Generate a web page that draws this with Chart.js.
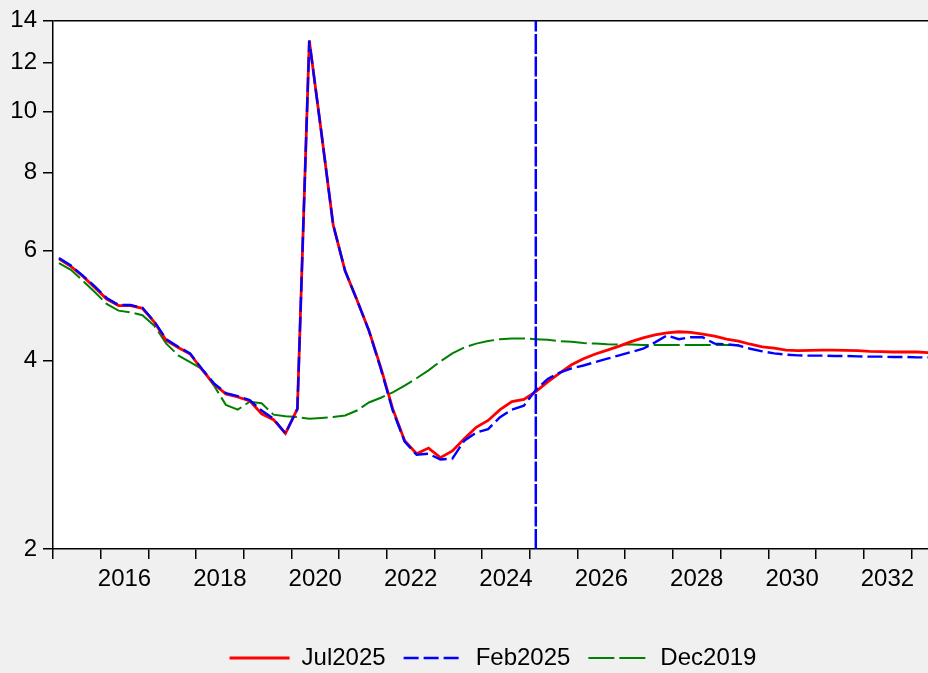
<!DOCTYPE html>
<html>
<head>
<meta charset="utf-8">
<script src="https://cdn.jsdelivr.net/npm/chart.js@4.4.1/dist/chart.umd.min.js"></script>
<style>
  html, body { margin: 0; padding: 0; background: #f0f0f0; }
  canvas { display: block; }
</style>
</head>
<body>
<canvas id="grafica" width="928" height="673"></canvas>
<script>
// trimestres (se dibujan en el centro de cada trimestre)
const periodos = [
  '2015Q1','2015Q2','2015Q3','2015Q4',
  '2016Q1','2016Q2','2016Q3','2016Q4',
  '2017Q1','2017Q2','2017Q3','2017Q4',
  '2018Q1','2018Q2','2018Q3','2018Q4',
  '2019Q1','2019Q2','2019Q3','2019Q4',
  '2020Q1','2020Q2','2020Q3','2020Q4',
  '2021Q1','2021Q2','2021Q3','2021Q4',
  '2022Q1','2022Q2','2022Q3','2022Q4',
  '2023Q1','2023Q2','2023Q3','2023Q4',
  '2024Q1','2024Q2','2024Q3','2024Q4',
  '2025Q1','2025Q2','2025Q3','2025Q4',
  '2026Q1','2026Q2','2026Q3','2026Q4',
  '2027Q1','2027Q2','2027Q3','2027Q4',
  '2028Q1','2028Q2','2028Q3','2028Q4',
  '2029Q1','2029Q2','2029Q3','2029Q4',
  '2030Q1','2030Q2','2030Q3','2030Q4',
  '2031Q1','2031Q2','2031Q3','2031Q4',
  '2032Q1','2032Q2','2032Q3','2032Q4',
  '2033Q1','2033Q2'
];

const jul2025 = [
  5.82, 5.66, 5.46, 5.24,
  5.02, 4.90, 4.90, 4.85,
  4.61, 4.31, 4.20, 4.10,
  3.87, 3.67, 3.54, 3.50,
  3.45, 3.29, 3.22, 3.06,
  3.35, 13.0, 9.3, 6.6,
  5.57, 5.0, 4.47, 3.90,
  3.35, 2.98, 2.84, 2.90,
  2.80, 2.87, 3.00, 3.13,
  3.21, 3.34, 3.44, 3.47,
  3.57, 3.70, 3.82, 3.94,
  4.03, 4.10, 4.16, 4.22,
  4.29, 4.35, 4.40, 4.43,
  4.45, 4.44, 4.41, 4.38,
  4.33, 4.30, 4.25, 4.21,
  4.19, 4.16, 4.15, 4.155,
  4.16, 4.16, 4.155, 4.15,
  4.14, 4.135, 4.13, 4.13,
  4.13, 4.12
];

const feb2025 = [
  5.84, 5.68, 5.47, 5.26,
  5.04, 4.91, 4.91, 4.86,
  4.62, 4.33, 4.21, 4.11,
  3.88, 3.68, 3.55, 3.51,
  3.46, 3.33, 3.23, 3.06,
  3.35, 13.0, 9.3, 6.6,
  5.57, 5.0, 4.47, 3.88,
  3.33, 2.97, 2.83, 2.84,
  2.78, 2.79, 2.98, 3.07,
  3.11, 3.25, 3.34, 3.39,
  3.59, 3.74, 3.83, 3.89,
  3.93, 3.98, 4.03, 4.08,
  4.13, 4.18, 4.28, 4.39,
  4.33, 4.36, 4.36, 4.26,
  4.25, 4.23, 4.18, 4.14,
  4.11, 4.09, 4.08, 4.075,
  4.075, 4.07, 4.07, 4.065,
  4.06, 4.06, 4.055, 4.055,
  4.05, 4.05
];

// el pronostico de dic-2019 termina en 2029Q2
const dec2019 = [
  5.73, 5.59, 5.37, 5.15,
  4.93, 4.81, 4.78, 4.73,
  4.55, 4.26, 4.08, 3.98,
  3.88, 3.65, 3.40, 3.34,
  3.44, 3.42, 3.28, 3.26,
  3.25, 3.23, 3.24, 3.25,
  3.27, 3.33, 3.43, 3.49,
  3.56, 3.65, 3.75, 3.86,
  3.99, 4.11, 4.20, 4.26,
  4.30, 4.33, 4.34, 4.34,
  4.33, 4.32, 4.30, 4.29,
  4.27, 4.26, 4.25, 4.245,
  4.245, 4.24, 4.24, 4.24,
  4.24, 4.24, 4.24, 4.24,
  4.24, 4.24
];

const yTicks = [2, 4, 6, 8, 10, 12, 14];
const xTickYears = [2015, 2016, 2017, 2018, 2019, 2020, 2021, 2022, 2023, 2024,
                    2025, 2026, 2027, 2028, 2029, 2030, 2031, 2032, 2033];
const xTickLabels = ['2016', '2018', '2020', '2022', '2024', '2026', '2028', '2030', '2032'];
const inicioPronostico = '2025Q1';

const FUENTE = '"Liberation Sans", Arial, sans-serif';

function periodoAX(p) {
    const anio = parseInt(p.slice(0, 4), 10);
    const trim = parseInt(p.slice(5), 10);
    return anio + (trim - 0.5) / 4;
}

function serie(valores) {
    return valores.map((v, i) => ({ x: periodoAX(periodos[i]), y: v }));
}

// fondo blanco solo en el area del grafico
const fondoArea = {
    id: 'fondoArea',
    beforeDraw(chart) {
        const { ctx, chartArea: a } = chart;
        ctx.save();
        ctx.fillStyle = '#ffffff';
        ctx.fillRect(a.left, a.top, a.right - a.left, a.bottom - a.top);
        ctx.restore();
    }
};

const xLinea = periodoAX(inicioPronostico);
const ctx = document.getElementById('grafica').getContext('2d');

// el padding derecho negativo solo corre la leyenda (en el original queda descentrada)
new Chart(ctx, {
    type: 'line',
    data: {
        datasets: [
            {
                label: 'Jul2025',
                data: serie(jul2025),
                borderColor: '#ff0000',
                borderWidth: 2.8,
                order: 2
            },
            {
                label: 'Feb2025',
                data: serie(feb2025),
                borderColor: '#0000ff',
                borderWidth: 2.4,
                borderDash: [15, 5],
                order: 1
            },
            {
                label: 'Dec2019',
                data: serie(dec2019),
                borderColor: '#008000',
                borderWidth: 2,
                borderDash: [26, 5],
                order: 3
            },
            {
                label: 'inicio',
                data: [{ x: xLinea, y: yTicks[0] }, { x: xLinea, y: yTicks[yTicks.length - 1] }],
                borderColor: '#0000ff',
                borderWidth: 2.5,
                borderDash: [20, 2.5],
                order: 0
            }
        ]
    },
    options: {
        responsive: false,
        animation: false,
        events: [],
        elements: { point: { radius: 0 }, line: { tension: 0, fill: false } },
        layout: { padding: { top: 16, right: -58, left: 0, bottom: -7 } },
        scales: {
            x: {
                type: 'linear',
                min: 2015,
                max: 2033.35,
                afterBuildTicks: scale => {
                    const t = xTickYears.map(v => ({ value: v }));
                    xTickLabels.forEach(l => t.push({ value: Number(l) + 0.5 }));
                    t.sort((a, b) => a.value - b.value);
                    scale.ticks = t;
                },
                afterFit: scale => { scale.height = 79; },
                ticks: {
                    autoSkip: false,
                    maxRotation: 0,
                    color: '#000',
                    padding: 6,
                    font: { family: FUENTE, size: 24 },
                    callback: v => {
                        const l = String(Math.floor(v));
                        return (v % 1 !== 0 && xTickLabels.includes(l)) ? l : '';
                    }
                },
                grid: {
                    drawOnChartArea: false,
                    tickLength: 10,
                    lineWidth: 1.5,
                    tickColor: c => Number.isInteger(c.tick.value) ? '#000' : 'rgba(0,0,0,0)'
                },
                border: { color: '#000', width: 1.5 }
            },
            y: {
                type: 'logarithmic',
                min: 2,
                max: 14,
                afterBuildTicks: scale => { scale.ticks = yTicks.map(v => ({ value: v })); },
                afterFit: scale => { scale.width = 53; },
                ticks: {
                    color: '#000',
                    padding: 6,
                    font: { family: FUENTE, size: 24 },
                    callback: v => String(v)
                },
                grid: {
                    tickLength: 10,
                    lineWidth: 1.5,
                    color: c => c.tick && c.tick.value === 14 ? '#000' : 'rgba(0,0,0,0)',
                    tickColor: '#000'
                },
                border: { color: '#000', width: 1.5 }
            }
        },
        plugins: {
            legend: {
                position: 'bottom',
                labels: {
                    filter: item => item.datasetIndex < 3,
                    sort: (a, b) => a.datasetIndex - b.datasetIndex,
                    // con usePointStyle la leyenda no toma el trazo de la linea, se lo pasamos
                    generateLabels: chart => {
                        const base = Chart.defaults.plugins.legend.labels.generateLabels(chart);
                        return base.map(item => {
                            const ds = chart.data.datasets[item.datasetIndex];
                            item.lineDash = ds.borderDash || [];
                            item.lineWidth = ds.borderWidth;
                            item.strokeStyle = ds.borderColor;
                            return item;
                        });
                    },
                    usePointStyle: true,
                    pointStyle: 'line',
                    pointStyleWidth: 60,
                    boxHeight: 24,
                    padding: 18,
                    color: '#000',
                    font: { family: FUENTE, size: 24 }
                }
            },
            tooltip: { enabled: false }
        }
    },
    plugins: [fondoArea]
});
</script>
</body>
</html>
